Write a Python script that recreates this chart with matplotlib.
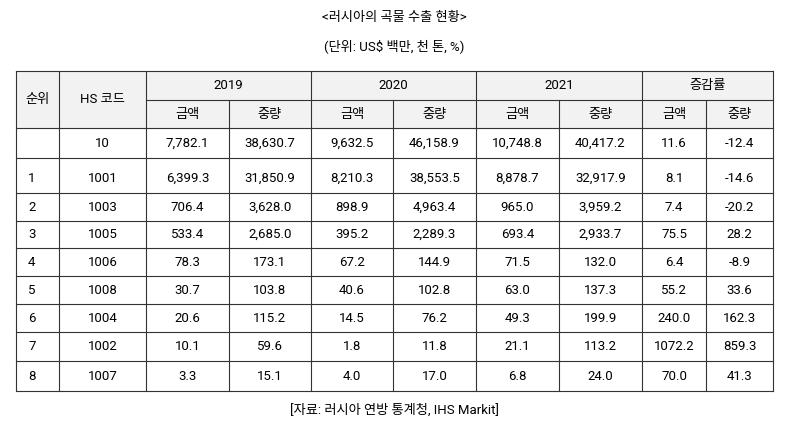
import matplotlib.pyplot as plt
from matplotlib.patches import Rectangle

plt.rcParams['font.family'] = ['Roboto', 'Noto Sans CJK JP', 'Noto Sans CJK KR',
                               'Noto Sans CJK SC', 'DejaVu Sans']

title = '<러시아의 곡물 수출 현황>'
unit = '(단위: US$ 백만, 천 톤, %)'
source = '[자료: 러시아 연방 통계청, IHS Markit]'
years = ['2019', '2020', '2021', '증감률']
ranks = ['', '1', '2', '3', '4', '5', '6', '7', '8']
codes = ['10', '1001', '1003', '1005', '1006', '1008', '1004', '1002', '1007']
amt_2019 = ['7,782.1', '6,399.3', '706.4', '533.4', '78.3', '30.7', '20.6', '10.1', '3.3']
wt_2019 = ['38,630.7', '31,850.9', '3,628.0', '2,685.0', '173.1', '103.8', '115.2', '59.6', '15.1']
amt_2020 = ['9,632.5', '8,210.3', '898.9', '395.2', '67.2', '40.6', '14.5', '1.8', '4.0']
wt_2020 = ['46,158.9', '38,553.5', '4,963.4', '2,289.3', '144.9', '102.8', '76.2', '11.8', '17.0']
amt_2021 = ['10,748.8', '8,878.7', '965.0', '693.4', '71.5', '63.0', '49.3', '21.1', '6.8']
wt_2021 = ['40,417.2', '32,917.9', '3,959.2', '2,933.7', '132.0', '137.3', '199.9', '113.2', '24.0']
chg_amt = ['11.6', '8.1', '7.4', '75.5', '6.4', '55.2', '240.0', '1072.2', '70.0']
chg_wt = ['-12.4', '-14.6', '-20.2', '28.2', '-8.9', '33.6', '162.3', '859.3', '41.3']

W, H = 789, 444
fig = plt.figure(figsize=(W / 100, H / 100), dpi=100)
ax = fig.add_axes([0, 0, 1, 1])
ax.set_xlim(0, W)
ax.set_ylim(H, 0)
ax.axis('off')

cols = [16, 59, 146, 229, 311, 393, 476, 559, 642, 706, 773]
rows = [71, 100, 128, 158, 193, 221, 248, 276, 304, 332, 361, 391]
lc = '#333333'
fs = 9.5

# header background
ax.add_patch(Rectangle((cols[0], rows[0]), cols[-1] - cols[0], rows[2] - rows[0],
                       facecolor='#f2f2f2', edgecolor='none'))

# horizontal lines
for i, y in enumerate(rows):
    x0 = cols[2] if i == 1 else cols[0]
    ax.plot([x0, cols[-1]], [y, y], color=lc, lw=0.8)
# vertical lines
for j, x in enumerate(cols):
    if j in (3, 5, 7, 9):
        ax.plot([x, x], [rows[1], rows[-1]], color=lc, lw=0.8)
    else:
        ax.plot([x, x], [rows[0], rows[-1]], color=lc, lw=0.8)

ax.text(W / 2, 18, title, ha='center', va='center', fontsize=fs)
ax.text(W / 2, 47, unit, ha='center', va='center', fontsize=fs)
ax.text(W / 2, 410, source, ha='center', va='center', fontsize=fs)

hy = (rows[0] + rows[2]) / 2
ax.text((cols[0] + cols[1]) / 2, hy, '순위', ha='center', va='center', fontsize=fs)
ax.text((cols[1] + cols[2]) / 2, hy, 'HS 코드', ha='center', va='center', fontsize=fs)
for k, yr in enumerate(years):
    xa, xb = cols[2 + 2 * k], cols[4 + 2 * k]
    ax.text((xa + xb) / 2, (rows[0] + rows[1]) / 2, yr, ha='center', va='center', fontsize=fs)
    for m, lab in enumerate(['금액', '중량']):
        ax.text((cols[2 + 2 * k + m] + cols[3 + 2 * k + m]) / 2, (rows[1] + rows[2]) / 2,
                lab, ha='center', va='center', fontsize=fs)

data_cols = [codes, amt_2019, wt_2019, amt_2020, wt_2020, amt_2021, wt_2021, chg_amt, chg_wt]
for i in range(len(codes)):
    yc = (rows[2 + i] + rows[3 + i]) / 2 + (3 if i == 1 else 0)
    ax.text(cols[0] + 12, yc, ranks[i], ha='left', va='center', fontsize=fs)
    for j, col in enumerate(data_cols):
        ax.text((cols[1 + j] + cols[2 + j]) / 2, yc, col[i], ha='center', va='center', fontsize=fs)

fig.savefig('out.png', dpi=100)
